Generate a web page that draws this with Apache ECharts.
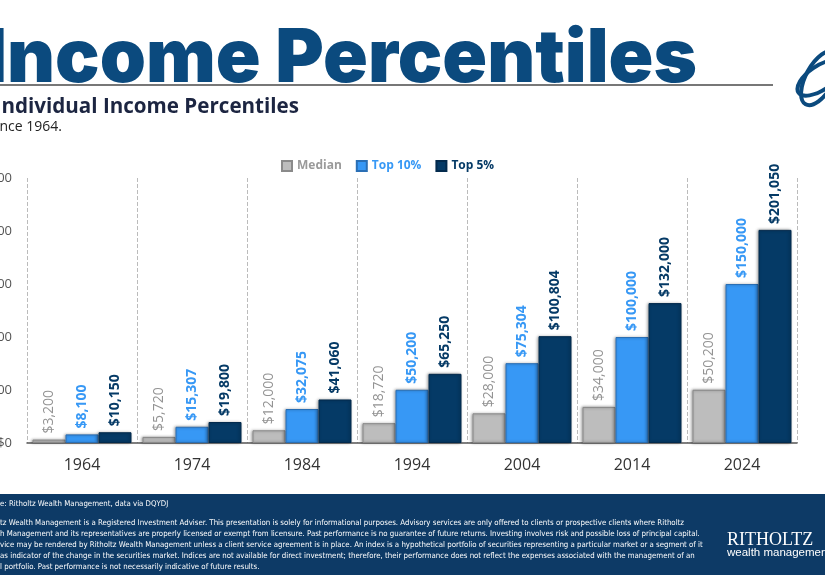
<!DOCTYPE html>
<html>
<head>
<meta charset="utf-8">
<script src="https://cdn.jsdelivr.net/npm/echarts@6/dist/echarts.min.js"></script>
<style>
html,body{margin:0;padding:0;background:#fff;}
#main{width:825px;height:575px;}
</style>
</head>
<body>
<div id="main"></div>
<script>
// data
var years = ['1964', '1974', '1984', '1994', '2004', '2014', '2024'];
var median = [3200, 5720, 12000, 18720, 28000, 34000, 50200];
var top10 = [8100, 15307, 32075, 50200, 75304, 100000, 150000];
var top5 = [10150, 19800, 41060, 65250, 100804, 132000, 201050];
var yTicks = [0, 50000, 100000, 150000, 200000, 250000];

var footerLines = [
    'tz Wealth Management is a Registered Investment Adviser. This presentation is solely for informational purposes. Advisory services are only offered to clients or prospective clients where Ritholtz',
    'h Management and its representatives are properly licensed or exempt from licensure. Past performance is no guarantee of future returns. Investing involves risk and possible loss of principal capital.',
    'vice may be rendered by Ritholtz Wealth Management unless a client service agreement is in place. An index is a hypothetical portfolio of securities representing a particular market or a segment of it',
    'as indicator of the change in the securities market. Indices are not available for direct investment; therefore, their performance does not reflect the expenses associated with the management of an',
    'l portfolio. Past performance is not necessarily indicative of future results.'
];

var NAVY = '#0b4a7e';
var DARK = '#053a66';
var BLUE = '#3798f5';
var GREY = '#bdbdbd';
var FOOT_FONT = '7.8px "Liberation Sans Narrow", "DejaVu Sans Condensed", sans-serif';

function money(v) {
    return '$' + v.toLocaleString('en-US');
}

var chartDom = document.getElementById('main');
var myChart = echarts.init(chartDom);

function barSeries(name, data, color, border, labelColor, weight) {
    return {
        name: name,
        type: 'bar',
        data: data,
        barGap: '0%',
        barCategoryGap: '10%',
        itemStyle: {
            color: color,
            borderColor: border,
            borderWidth: 1,
            shadowColor: 'rgba(0,0,0,0.35)',
            shadowBlur: 3,
            shadowOffsetX: -1
        },
        label: {
            show: true,
            position: 'top',
            rotate: 90,
            align: 'left',
            verticalAlign: 'middle',
            distance: 6,
            fontFamily: 'Open Sans',
            fontSize: 14,
            fontWeight: weight,
            color: labelColor,
            formatter: function (p) { return money(p.value); }
        }
    };
}

// footer band and texts
var footerGraphics = [{
    type: 'rect',
    shape: { x: 0, y: 494, width: 825, height: 81 },
    style: { fill: '#0d3a66' }
}, {
    type: 'text',
    x: 0, y: 500,
    style: { text: 'e: Ritholtz Wealth Management, data via DQYDJ', fill: '#fff', font: FOOT_FONT }
}];
footerLines.forEach(function (t, i) {
    footerGraphics.push({
        type: 'text',
        x: 0, y: 519 + i * 11,
        style: { text: t, fill: '#fff', font: FOOT_FONT }
    });
});
footerGraphics.push({
    type: 'text', x: 727, y: 531,
    style: { text: 'RITHOLTZ', fill: '#fff', font: '18px "Liberation Serif", "DejaVu Serif", serif' }
}, {
    type: 'text', x: 727, y: 547,
    style: { text: 'wealth management', fill: '#fff', font: '11.5px "Liberation Sans", sans-serif' }
});

var option = {
    backgroundColor: '#fff',
    animation: false,
    textStyle: { fontFamily: 'Open Sans' },
    grid: { left: 27, right: 28, top: 178, bottom: 132, outerBoundsMode: 'none', containLabel: false },
    legend: {
        top: 155,
        left: 276,
        itemWidth: 10,
        itemHeight: 10,
        itemGap: 14,
        icon: 'rect',
        textStyle: { fontSize: 12, fontWeight: 'bold', fontFamily: 'Open Sans' },
        data: [
            { name: 'Median', textStyle: { color: '#9a9a9a' } },
            { name: 'Top 10%', textStyle: { color: BLUE } },
            { name: 'Top 5%', textStyle: { color: DARK } }
        ]
    },
    xAxis: {
        type: 'category',
        data: years,
        axisLine: { lineStyle: { color: '#555', width: 1.5 } },
        axisTick: { show: false },
        axisLabel: { fontSize: 16, color: '#333', margin: 14 },
        splitLine: { show: true, lineStyle: { type: 'dashed', color: '#bbb' } }
    },
    yAxis: {
        type: 'value',
        min: yTicks[0],
        max: yTicks[yTicks.length - 1],
        interval: yTicks[1] - yTicks[0],
        axisLine: { show: false },
        axisTick: { show: false },
        splitLine: { show: false },
        axisLabel: {
            fontSize: 13, color: '#555', margin: 15,
            formatter: function (v) { return money(v); }
        }
    },
    series: [
        barSeries('Median', median, GREY, '#8a8a8a', '#939393', 'normal'),
        barSeries('Top 10%', top10, BLUE, '#2a6fb5', BLUE, 'bold'),
        barSeries('Top 5%', top5, DARK, '#032a4d', DARK, 'bold')
    ],
    graphic: [{
        type: 'text', x: 697, y: 97,
        style: { text: 'Income Percentiles', fill: NAVY, font: '900 74px Inter, sans-serif', textAlign: 'right', textVerticalAlign: 'bottom' }
    }, {
        type: 'line',
        shape: { x1: 0, y1: 85, x2: 773, y2: 85 },
        style: { stroke: '#777', lineWidth: 2 }
    }, {
        type: 'text', x: 299, y: 118,
        style: { text: 'Individual Income Percentiles', fill: '#1c2541', font: 'bold 20.6px "Open Sans", sans-serif', textAlign: 'right', textVerticalAlign: 'bottom' }
    }, {
        type: 'text', x: 62, y: 134,
        style: { text: 'Since 1964.', fill: '#222', font: '14px "Open Sans", sans-serif', textAlign: 'right', textVerticalAlign: 'bottom' }
    }, {
        // logo rings
        type: 'ellipse',
        shape: { cx: 820, cy: 78, rx: 14, ry: 30 },
        rotation: -0.5,
        originX: 820, originY: 78,
        style: { fill: 'none', stroke: NAVY, lineWidth: 4 }
    }, {
        type: 'ellipse',
        shape: { cx: 820, cy: 78, rx: 26, ry: 12 },
        rotation: 0.6,
        originX: 820, originY: 78,
        style: { fill: 'none', stroke: NAVY, lineWidth: 4 }
    }].concat(footerGraphics)
};

myChart.setOption(option);
</script>
</body>
</html>
